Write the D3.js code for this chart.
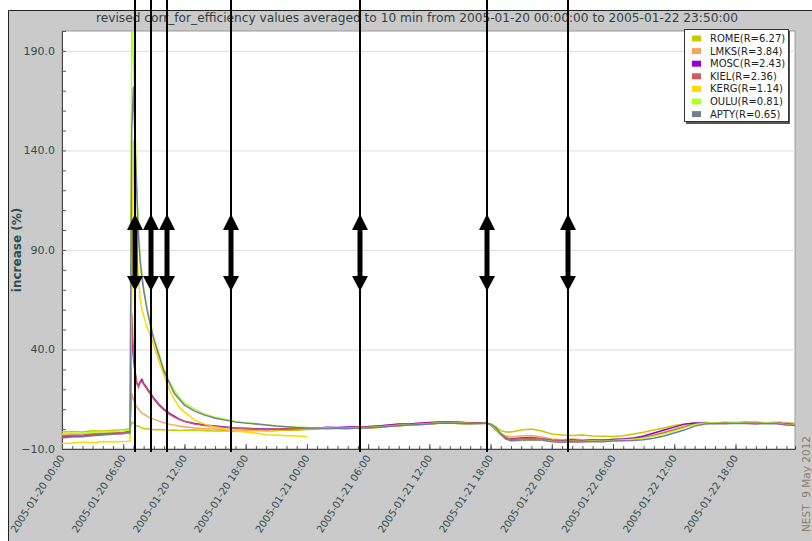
<!doctype html>
<html lang="en">
<head>
<meta charset="utf-8">
<title>corr_for_efficiency</title>
<style>
  body { margin: 0; background: #ffffff; }
  svg { display: block; font-family: "DejaVu Sans", sans-serif; }
</style>
<script src="https://d3js.org/d3.v7.min.js"></script>
</head>
<body>
<div id="chart"></div>
<script>
// minutes after 2005-01-20 00:00 UTC
var minutes = [0,60,120,180,240,300,360,390,400,
  410,420,430,440,450,460,470,480,500,520,540,570,600,630,660,690,720,
  780,840,900,960,1020,1080,1140,1200,1260,1320,1380,1440,1500,1560,1620,1680,1740,1800,1860,1920,1980,2040,2100,2160,2220,2280,2340,2400,2460,
  2490,2520,2550,2580,2610,
  2640,2700,2760,2820,2880,2940,3000,3060,3120,3180,3240,3300,3360,3420,3480,3540,3600,3660,3720,3780,3840,3900,3960,4020,4080,4140,4200,4260,4310];

var stations = ["ROME(R=6.27)", "LMKS(R=3.84)", "MOSC(R=2.43)", "KIEL(R=2.36)", "KERG(R=1.14)", "OULU(R=0.81)", "APTY(R=0.65)"];
var colors = ["#c8c800", "#f4a460", "#9400d3", "#cd5c5c", "#ffd700", "#adff2f", "#708090"];

var rome = [-1.5,-1.2,-1.4,-0.8,-1,-0.6,-0.3,0,-0.2,
  3.5,3,2,1.5,1.5,1,0.5,0.3,0,0.2,-0.3,-0.2,-0.5,-0.6,-0.4,-0.7,-0.6,
  -0.5,-0.8,-1,-0.8,-1.2,-1,-0.7,-1,-0.8,-0.5,-0.6,-0.2,0,0.3,0.2,0.1,0.6,0.4,0.8,1.4,1.6,2.2,2.0,2.6,2.9,3.0,2.7,2.6,2.9,
  3.0,2.6,1.2,-0.8,-1.5,
  -1.5,-0.5,0,-1,-2.5,-3,-3.2,-3,-3.5,-3.6,-3.7,-3.3,-2.5,-1.6,-0.5,0.6,1.8,2.6,3,3.2,3,3.3,3.1,3.2,3.4,3.1,3.3,2.8,2.5];
var lmks = [-3,-2.6,-2.4,-2.2,-2,-1.8,-1.6,-1.2,-1.3,
  18,15,13,11,10,9,8,7.5,6.5,5.5,5,4,3.2,2.5,2,1.5,1.2,
  0.5,0.2,0,-0.3,-0.5,-0.5,-0.3,-0.6,-0.2,0,0.2,0.5,0.2,0.7,0.4,0.8,0.9,1.0,1.5,1.9,2.3,2.5,2.9,3.2,3.5,3.8,3.4,3.3,3.2,
  3.3,2.5,0.5,-2,-3.5,
  -4,-3.5,-3.2,-4,-5,-5.3,-5,-5.4,-5.2,-5.5,-5.1,-4.8,-4.3,-3.8,-2.8,-1.5,0,1.6,2.8,3.4,3.1,3.5,3.3,3.6,3.4,3.2,3.5,3.2,2.9];
var mosc = [-4,-3.5,-3.6,-3,-2.6,-2.3,-2,-1.5,-1.6,
  50,36,28,23,22,24,25,23,20.5,18,15.5,12.5,10,8,6.5,5,4,
  2.8,2.0,1.5,1.0,0.6,0.4,0.2,0,0.1,0.2,0.3,0.6,0.4,0.9,0.8,1.0,1.2,1.3,1.6,2.0,2.5,2.6,2.9,3.3,3.6,3.4,3.5,3.1,3.2,
  3.2,2.2,-0.2,-2.8,-4.6,
  -5,-4.5,-4.2,-4.8,-5.6,-5.8,-5.5,-5.8,-5.5,-5.6,-5.2,-5,-4.6,-3.5,-2,-0.5,1,2.5,3,2.9,3.2,3,3.1,3.3,3,2.9,3.1,2.5,2.2];
var kiel = [-3.5,-3.2,-3,-2.6,-2.4,-2,-1.8,-1.4,-1.5,
  58,38,29,23,21,23.5,24,22.5,20,17.5,15,12,9.5,7.5,6,4.8,3.8,
  2.5,1.8,1.2,0.8,0.5,0.2,0,-0.2,0,0.1,0.3,0.4,0.3,0.6,0.7,0.6,0.9,1.0,1.3,1.7,2.2,2.4,2.6,3.0,3.4,3.2,3.3,2.9,3.0,
  3.0,2.3,0,-2.5,-4.3,
  -5.2,-4.8,-4.5,-5,-5.7,-6,-5.7,-6,-5.6,-5.8,-5.5,-5.2,-4.8,-4.3,-3.2,-2,-0.5,1,2.5,3.1,2.8,3.2,3,3.2,3.1,2.9,3,2.4,2.1];
var kerg = [-7.2,-7,-6.6,-6.8,-6.2,-6.5,-6.2,-6.1,-6,
  70,145,112,90,76,65,60,57,51,47,42,34,27,20,15,11,8.5,
  4.5,2.5,1,0,-1,-1.5,-2,-2.8,-3,-3.3,-3.5,-3.8,null,null,null,null,null,null,null,null,null,null,null,null,null,null,null,null,null,
  null,null,null,null,null,
  null,null,null,null,null,null,null,null,null,null,null,null,null,null,null,null,null,null,null,null,null,null,null,null,null,null,null,null,null];
var oulu = [-2.5,-2,-2.2,-1.6,-1.5,-1.2,-0.8,-0.5,-0.7,
  205,185,150,122,100,86,78,71,61,53,46,38,30,24,19.5,16,13,
  10,7.5,6,5,4,3.2,2.8,2.2,1.5,1.2,1,0.8,0.6,0.6,0.4,0.5,0.8,0.7,1.0,1.4,1.8,2.1,2.4,2.7,3.0,3.1,2.9,2.8,2.7,
  2.9,2.4,0.3,-3,-5.2,
  -6,-5.8,-5.5,-5.6,-6.2,-6.5,-6.2,-6.4,-6,-6.2,-5.8,-5.5,-5.2,-4.6,-3.6,-2.4,-1,0.6,2.2,2.9,3.2,2.8,3.3,3,2.8,3.2,2.9,2.2,1.9];
var apty = [-4.5,-4,-3.8,-3.4,-3,-2.6,-2.3,-1.8,-1.9,
  150,172,142,118,96,84,76,70,60,52,45,37,29,23.5,18,15,12,
  9,7,5.5,4.5,3.5,3,2.5,2,1.5,1.2,0.8,0.6,0.5,0.3,0.5,0.4,0.5,0.6,0.9,1.3,1.7,2.0,2.3,2.6,2.9,3.0,2.8,2.7,2.8,
  2.8,2.6,0.8,-2.5,-5,
  -5.8,-5.5,-5.3,-5.5,-6.3,-6.6,-6.4,-6.5,-6.2,-6.3,-6,-5.8,-5.7,-5.3,-4.6,-3.5,-2,-0.5,1.5,2.6,2.8,2.7,2.9,2.8,2.6,2.8,2.7,2.1,1.8];
var series = [rome, lmks, mosc, kiel, kerg, oulu, apty];

// event markers (vertical lines with double arrows)
var events = ["2005-01-20 07:10", "2005-01-20 08:45", "2005-01-20 10:20", "2005-01-20 16:35",
  "2005-01-21 05:15", "2005-01-21 17:40", "2005-01-22 01:35"];

var yTickLabels = [190, 140, 90, 40, -10];

var W = 812, H = 541;
var plot = {left: 62, right: 795, top: 31, bottom: 449};
var t0 = Date.UTC(2005, 0, 20, 0, 0);
var parseT = d3.utcParse("%Y-%m-%d %H:%M");

var x = d3.scaleUtc()
  .domain([new Date(t0), new Date(t0 + 4310 * 60000)])
  .range([plot.left, plot.right]);
var y = d3.scaleLinear()
  .domain([-10, 200])
  .range([plot.bottom, plot.top]);

var svg = d3.select("#chart").append("svg")
  .attr("width", W)
  .attr("height", H);

// grey panel with frame
svg.append("rect")
  .attr("x", 8).attr("y", 10)
  .attr("width", W).attr("height", H)
  .attr("fill", "#cacaca");
svg.append("path")
  .attr("d", "M8.5," + H + "V10.5H" + W)
  .attr("stroke", "#222").attr("fill", "none");

// title
svg.append("text")
  .attr("x", 417).attr("y", 22)
  .attr("text-anchor", "middle")
  .attr("font-size", "12.2px")
  .attr("fill", "#2f3f3f")
  .text("revised corr_for_efficiency values averaged to 10 min from 2005-01-20 00:00:00 to 2005-01-22 23:50:00");

// plot background
svg.append("rect")
  .attr("x", plot.left).attr("y", plot.top)
  .attr("width", plot.right - plot.left).attr("height", plot.bottom - plot.top)
  .attr("fill", "#ffffff")
  .attr("stroke", "#9a9a9a");

// gridlines
svg.append("g").selectAll("line")
  .data(yTickLabels.filter(function(d) { return d > -10; }))
  .enter().append("line")
  .attr("x1", plot.left).attr("x2", plot.right)
  .attr("y1", function(d) { return y(d) + 0.5; })
  .attr("y2", function(d) { return y(d) + 0.5; })
  .attr("stroke", "#dcdcdc");

// y axis: ticks every 10 pointing inward
var yAxis = d3.axisRight(y)
  .tickValues(d3.range(-10, 201, 10))
  .tickSize(4)
  .tickFormat("");
svg.append("g")
  .attr("transform", "translate(" + plot.left + ",0)")
  .call(yAxis)
  .call(function(g) {
    g.select(".domain").attr("stroke", "#444");
    g.selectAll(".tick line").attr("stroke", "#555");
  });
svg.append("g").selectAll("text")
  .data(yTickLabels)
  .enter().append("text")
  .attr("x", 55)
  .attr("y", function(d) { return y(d) + 4; })
  .attr("text-anchor", "end")
  .attr("font-size", "11px")
  .attr("fill", "#2f4f4f")
  .text(function(d) { return d3.format(".1f")(d); });

svg.append("text")
  .attr("transform", "translate(21,250) rotate(-90)")
  .attr("text-anchor", "middle")
  .attr("font-size", "12px")
  .attr("font-weight", "bold")
  .attr("fill", "#2f4f4f")
  .text("increase (%)");

// x axis: hourly ticks inward, labels every 6 hours
var xMinor = d3.axisTop(x)
  .ticks(d3.utcHour.every(1))
  .tickSize(3)
  .tickFormat("");
svg.append("g")
  .attr("transform", "translate(0," + plot.bottom + ")")
  .call(xMinor)
  .call(function(g) {
    g.select(".domain").attr("stroke", "#444");
    g.selectAll(".tick line").attr("stroke", "#555");
  });
var xMajor = d3.axisTop(x)
  .ticks(d3.utcHour.every(6))
  .tickSize(5)
  .tickFormat("");
svg.append("g")
  .attr("transform", "translate(0," + plot.bottom + ")")
  .call(xMajor)
  .call(function(g) {
    g.select(".domain").remove();
    g.selectAll(".tick line").attr("stroke", "#555");
  });
var fmt = d3.utcFormat("%Y-%m-%d %H:%M");
svg.append("g").selectAll("text")
  .data(x.ticks(d3.utcHour.every(6)))
  .enter().append("text")
  .attr("transform", function(d) { return "translate(" + (x(d) + 3) + ",458) rotate(-57)"; })
  .attr("text-anchor", "end")
  .attr("font-size", "10px")
  .attr("fill", "#2f4f4f")
  .text(fmt);

// data lines
svg.append("clipPath").attr("id", "clip")
  .append("rect")
  .attr("x", plot.left).attr("y", plot.top)
  .attr("width", plot.right - plot.left).attr("height", plot.bottom - plot.top);

var line = d3.line()
  .defined(function(d) { return d.v !== null; })
  .x(function(d) { return x(d.t); })
  .y(function(d) { return y(d.v); });

var lines = svg.append("g").attr("clip-path", "url(#clip)");
series.forEach(function(vals, i) {
  var pts = vals.map(function(v, j) { return {t: new Date(t0 + minutes[j] * 60000), v: v}; });
  lines.append("path")
    .datum(pts)
    .attr("d", line)
    .attr("fill", "none")
    .attr("stroke", colors[i])
    .attr("stroke-width", 1.5);
});

// event markers
var ev = svg.append("g").selectAll("g")
  .data(events)
  .enter().append("g")
  .attr("transform", function(d) { return "translate(" + Math.round(x(parseT(d))) + ",0)"; });
ev.append("line")
  .attr("x1", 0).attr("x2", 0)
  .attr("y1", 0).attr("y2", 452)
  .attr("stroke", "#000").attr("stroke-width", 2);
ev.append("rect")
  .attr("x", -2.5).attr("y", 228)
  .attr("width", 5).attr("height", 50)
  .attr("fill", "#000");
ev.append("path")
  .attr("d", "M0,214L8,230L-8,230Z M0,291L8,276L-8,276Z")
  .attr("fill", "#000");

// legend
var lg = svg.append("g").attr("transform", "translate(684,29)");
lg.append("rect")
  .attr("x", 2).attr("y", 2)
  .attr("width", 104).attr("height", 93)
  .attr("fill", "#555");
lg.append("rect")
  .attr("x", 0.5).attr("y", 0.5)
  .attr("width", 104).attr("height", 92)
  .attr("fill", "#fff").attr("stroke", "#333");
var items = lg.selectAll(".item")
  .data(stations)
  .enter().append("g")
  .attr("transform", function(d, i) { return "translate(0," + (9.5 + i * 12.6) + ")"; });
items.append("rect")
  .attr("x", 8).attr("y", -3)
  .attr("width", 9).attr("height", 6)
  .attr("fill", function(d, i) { return colors[i]; });
items.append("text")
  .attr("x", 26).attr("y", 3.5)
  .attr("font-size", "10px")
  .attr("fill", "#222")
  .text(function(d) { return d; });

// stamp
svg.append("text")
  .attr("transform", "translate(810,532) rotate(-90)")
  .attr("font-size", "10.5px")
  .attr("fill", "#8b7d6b")
  .attr("xml:space", "preserve")
  .text("NEST  9 May 2012");
</script>
</body>
</html>
